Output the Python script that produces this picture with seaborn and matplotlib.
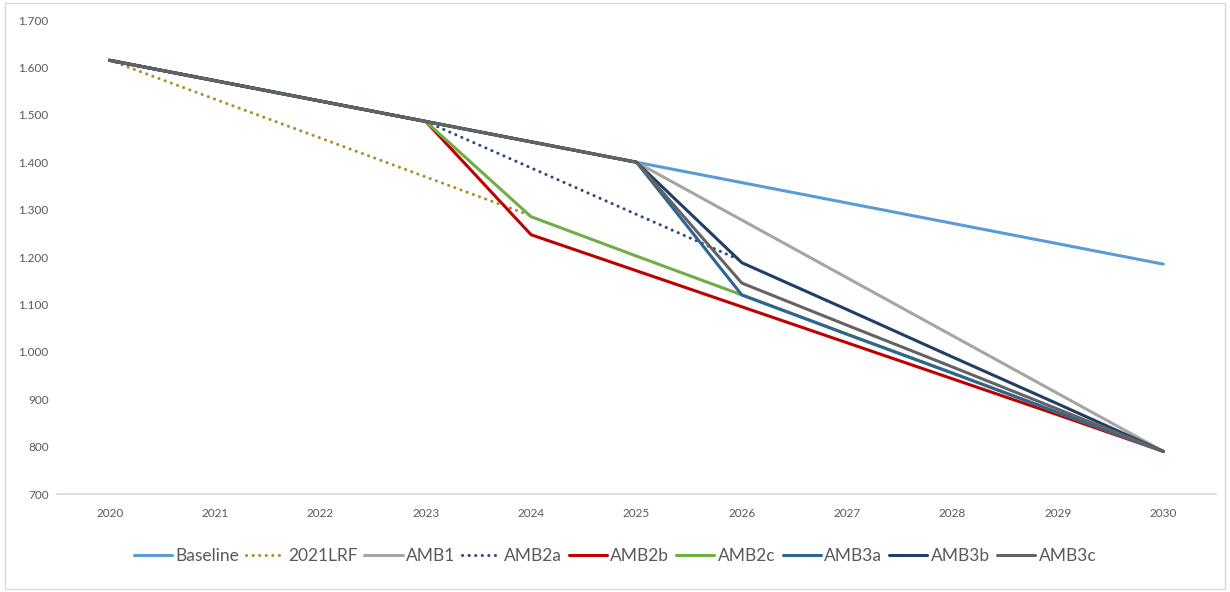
import numpy as np
import pandas as pd
import matplotlib
matplotlib.use("Agg")
import matplotlib.pyplot as plt
from matplotlib.patches import Rectangle
from matplotlib.ticker import FuncFormatter
import seaborn as sns

years = [2020, 2021, 2022, 2023, 2024, 2025, 2026, 2027, 2028, 2029, 2030]

baseline = [1615, 1572, 1529, 1486, 1443, 1400, 1357, 1314, 1271, 1228, 1185]
lrf_2021 = [1615, 1533, 1451, 1369, 1287, None, None, None, None, None, None]
amb1 = [1615, 1572, 1529, 1486, 1443, 1400, 1278, 1156, 1034, 912, 790]
amb2a = [1615, 1572, 1529, 1486, 1388, 1290, 1192, None, None, None, None]
amb2b = [1615, 1572, 1529, 1486, 1247, 1171, 1095, 1019, 943, 867, 790]
amb2c = [1615, 1572, 1529, 1486, 1285, 1202, 1120, 1037, 955, 872, 790]
amb3a = [1615, 1572, 1529, 1486, 1443, 1400, 1120, 1037, 955, 872, 790]
amb3b = [1615, 1572, 1529, 1486, 1443, 1400, 1188, 1089, 989, 890, 790]
amb3c = [1615, 1572, 1529, 1486, 1443, 1400, 1145, 1056, 968, 879, 790]

series_names = ["Baseline", "2021LRF", "AMB1", "AMB2a", "AMB2b",
                "AMB2c", "AMB3a", "AMB3b", "AMB3c"]
series_values = [baseline, lrf_2021, amb1, amb2a, amb2b,
                 amb2c, amb3a, amb3b, amb3c]

colors = {
    "Baseline": "#5B9BD5",
    "2021LRF": "#A8912A",
    "AMB1": "#A5A5A5",
    "AMB2a": "#2F4A78",
    "AMB2b": "#C00000",
    "AMB2c": "#70AD47",
    "AMB3a": "#2E6595",
    "AMB3b": "#1F3F66",
    "AMB3c": "#636363",
}
dotted = {"2021LRF", "AMB2a"}

sns.set_theme(style="white")
plt.rcParams["font.family"] = ["Lato", "DejaVu Sans"]

fig = plt.figure(figsize=(12.3, 5.92), dpi=100)
ax = fig.add_axes([0.0463, 0.1655, 0.9423, 0.8007])

for name, vals in zip(series_names, series_values):
    df = pd.DataFrame({"year": years, "value": vals}).dropna()
    sns.lineplot(data=df, x="year", y="value", ax=ax, color=colors[name],
                 linewidth=2.2, label=name, legend=False)
    ln = ax.get_lines()[-1]
    if name in dotted:
        # round dots: tiny dash with round caps
        ln.set_linestyle((0, (0.05, 2.1)))
        ln.set_dash_capstyle("round")

ax.set_xlim(2019.5, 2030.5)
ax.set_ylim(700, 1700)
ax.set_xticks(years)
ax.set_yticks(range(700, 1701, 100))
ax.yaxis.set_major_formatter(FuncFormatter(
    lambda v, p: f"{int(v):,}".replace(",", ".")))
ax.set_xlabel("")
ax.set_ylabel("")
ax.tick_params(axis="both", length=0, labelsize=8.5, colors="#595959")
ax.tick_params(axis="x", pad=10)
ax.tick_params(axis="y", pad=6)
for side in ["top", "right", "left"]:
    ax.spines[side].set_visible(False)
ax.spines["bottom"].set_color("#D9D9D9")
ax.spines["bottom"].set_linewidth(1.2)
ax.grid(False)

handles = ax.get_lines()
leg = fig.legend(handles, series_names, loc="center", ncol=9,
                 bbox_to_anchor=(0.5, 0.061), frameon=False,
                 fontsize=12.5, handlelength=2.2, handletextpad=0.2,
                 columnspacing=0.4, labelcolor="#595959")

fig.patches.append(Rectangle((0.004, 0.005), 0.992, 0.99, transform=fig.transFigure,
                             fill=False, edgecolor="#D9D9D9", linewidth=1))

fig.savefig("out.png", dpi=100, facecolor="white")
